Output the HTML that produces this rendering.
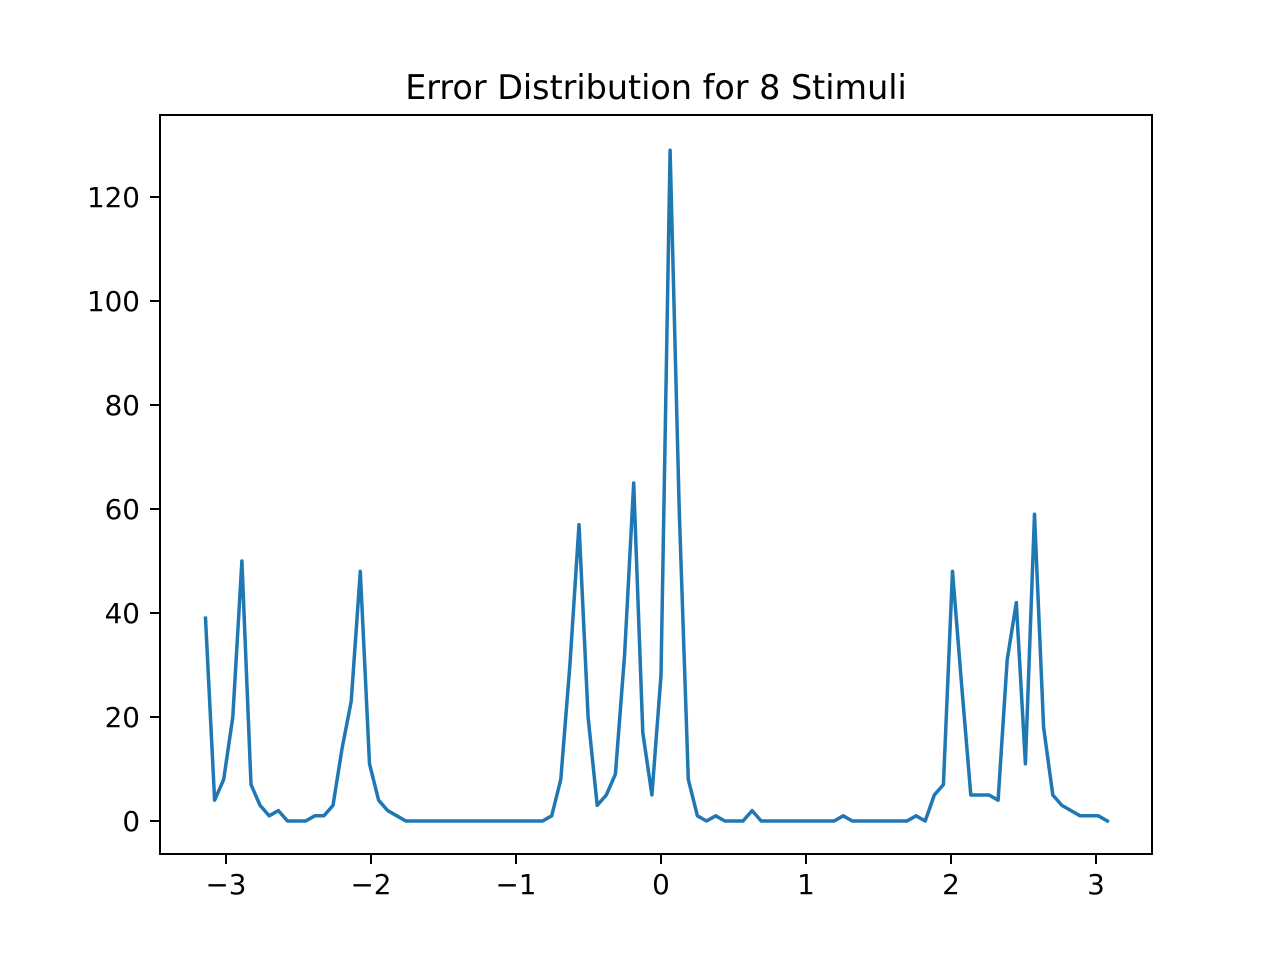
<!DOCTYPE html>
<html><head><meta charset="utf-8"><style>body{margin:0;background:#fff}svg{display:block}text{font-family:"DejaVu Sans","Liberation Sans",sans-serif;fill:#000}</style></head>
<body>
<svg id="chart" width="1280" height="960" xmlns="http://www.w3.org/2000/svg">
<rect width="1280" height="960" fill="#fff"/>
<text x="656" y="99" font-size="33.4" text-anchor="middle">Error Distribution for 8 Stimuli</text>
<g id="ticks"></g>
<polyline id="series" fill="none" stroke="#1f77b4" stroke-width="3.5" stroke-linejoin="round" stroke-linecap="square"/>
<rect x="160" y="115" width="992" height="739" fill="none" stroke="#000" stroke-width="2"/>
</svg>
<script>
const counts = [39,4,8,20,50,7,3,1,2,0, 0,0,1,1,3,14,23,48,11,4, 2,1,0,0,0,0,0,0,0,0, 0,0,0,0,0,0,0,0,1,8, 30,57,20,3,5,9,32,65,17,5, 28,129,60,8,1,0,1,0,0,0, 2,0,0,0,0,0,0,0,0,0, 1,0,0,0,0,0,0,0,1,0, 5,7,48,26,5,5,5,4,31,42, 11,59,18,5,3,2,1,1,1,0];
const xTicks = [-3,-2,-1,0,1,2,3];
const yTicks = [0,20,40,60,80,100,120];
const N = counts.length;
const xs = counts.map((_, i) => -Math.PI + i * 2 * Math.PI / N);
const X = v => 661 + v * 145;
const Y = v => 821 - v * 5.2;
const NS = "http://www.w3.org/2000/svg";
document.getElementById('series').setAttribute('points', counts.map((c, i) => X(xs[i]).toFixed(1) + ',' + Y(c).toFixed(1)).join(' '));
const g = document.getElementById('ticks');
xTicks.forEach(t => {
  const l = document.createElementNS(NS, 'line');
  
  
  l.setAttribute('x1', X(t)); l.setAttribute('x2', X(t)); l.setAttribute('y1', 854); l.setAttribute('y2', 864);
  l.setAttribute('stroke', '#000'); l.setAttribute('stroke-width', '2');
  g.appendChild(l);
  const tx = document.createElementNS(NS, 'text');
  
  
  tx.setAttribute('x', X(t)); tx.setAttribute('y', 894); tx.setAttribute('font-size', '27.8'); tx.setAttribute('text-anchor', 'middle');
  tx.textContent = t < 0 ? '\u2212' + Math.abs(t) : String(t);
  g.appendChild(tx);
});
yTicks.forEach(t => {
  const l = document.createElementNS(NS, 'line');
  
  
  l.setAttribute('x1', 150); l.setAttribute('x2', 160); l.setAttribute('y1', Y(t)); l.setAttribute('y2', Y(t));
  l.setAttribute('stroke', '#000'); l.setAttribute('stroke-width', '2');
  g.appendChild(l);
  const tx = document.createElementNS(NS, 'text');
  
  
  tx.setAttribute('x', 140); tx.setAttribute('y', Y(t) + 10); tx.setAttribute('font-size', '27.8'); tx.setAttribute('text-anchor', 'end');
  tx.textContent = String(t);
  g.appendChild(tx);
});
</script>
</body></html>
